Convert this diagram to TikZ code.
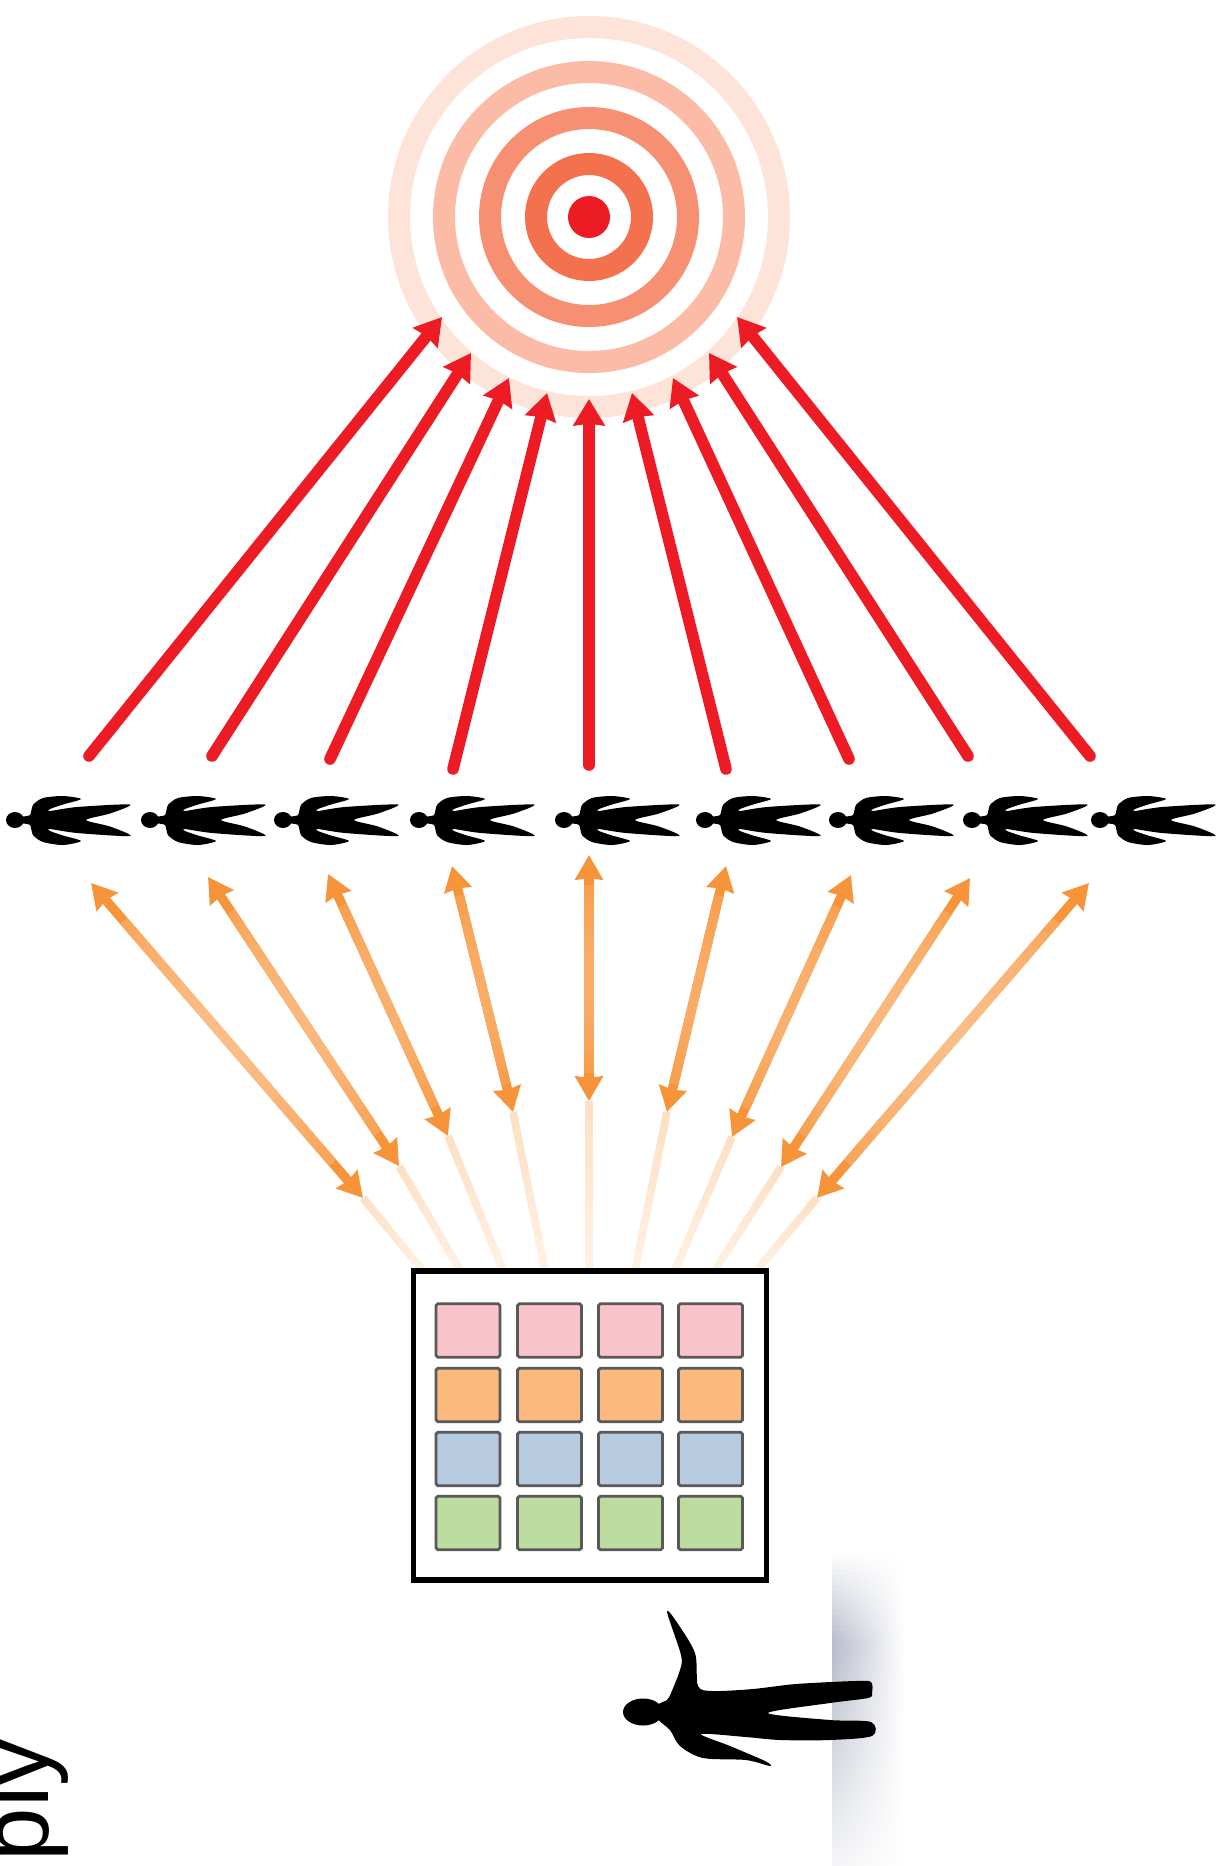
\documentclass[tikz,border=0pt]{standalone}
\usepackage{fontspec}
\setmainfont{Liberation Sans}
\usepackage{xcolor}
\usepackage{tikz}
\usetikzlibrary{
    positioning,
    arrows.meta,
    calc
}
\definecolor{ringA}{HTML}{F4714E}
\definecolor{ringB}{HTML}{F78F72}
\definecolor{ringC}{HTML}{FBBBA6}
\definecolor{ringD}{HTML}{FDE3D8}
\definecolor{hitred}{HTML}{ED1C24}
\definecolor{linkorange}{HTML}{F7943A}
\definecolor{linkfaint}{HTML}{FDE0C4}
\definecolor{cellpink}{HTML}{F9C3CA}
\definecolor{cellorange}{HTML}{FCB97D}
\definecolor{cellblue}{HTML}{B6CAE0}
\definecolor{cellgreen}{HTML}{BCDCA0}
\definecolor{floorgrey}{HTML}{B6BBC9}
\tikzset{
    ring/.style={line width=6.26pt},
    redarrow/.style={hitred, line width=3.3pt, line cap=round, -{Stealth[inset=0.5pt, length=7.5pt, width=8.8pt]}},
    orangearrow/.style={linkorange, line width=2.7pt, {Stealth[inset=0.5pt, length=7pt, width=7.8pt]}-{Stealth[inset=0.5pt, length=7pt, width=7.8pt]}},
    cell/.style={draw=black!65, line width=0.8pt, rounded corners=0.5pt, minimum width=18.2pt, minimum height=15.2pt, inner sep=0pt},
    crowdperson/.pic={
        \fill[black] (0,0) ellipse (9 and 8);
        \fill[black] plot[smooth cycle, tension=0.45] coordinates {(7,-3) (15,-5) (18,-15) (28,-22) (48,-24) (66,-21) (48,-15.5) (35,-11) (35,-9) (62,-13) (115,-15.5) (95,-6.5) (71,0) (95,6.5) (115,16) (62,13) (35,9) (35,11) (48,15.5) (66,21) (48,25) (28,22) (18,15) (15,5) (7,3)};
    },
    bigperson/.pic={
        \fill[black] (0,0) ellipse (20 and 13.5);
        \fill[black] plot[smooth cycle, tension=0.5] coordinates {(15,-7) (24,-12) (28,-19) (37,-42) (38,-57) (24,-100) (33,-91) (52,-59) (55,-26) (70,-21) (110,-23) (153,-28) (212,-31) (228,-30) (229,-19) (225,-14) (187,-9) (125,1) (187,8) (228,10) (229,24) (187,28) (137,28) (103,25) (58,22) (87,34) (122,49) (127,54) (103,48) (60,46) (37,34) (27,18) (15,7)};
    }
}
\begin{document}
\begin{tikzpicture}[x=0.01cm, y=-0.01cm]
    \useasboundingbox (0,0) rectangle (1219,1866);
    % floor
    \foreach \s in {0,...,62} {
        \pgfmathsetmacro{\tt}{(\s+.5)/63}
        \pgfmathtruncatemacro{\pc}{100*min(\tt/.3,(1.12-\tt)/.82)}
        \shade[left color=floorgrey!\pc!white, right color=white] (832,1550+\s*5) rectangle (905,1555.5+\s*5);
    }
    % target
    \coordinate (target) at (589,217);
    \foreach \r/\c in {190/ringD, 145/ringC, 99/ringB, 53/ringA}
        \draw[ring, \c] (target) circle (\r);
    \fill[hitred] (target) circle (21);
    % red arrows
    \foreach \i/\tx/\ty/\hx/\hy in {1/89/756/442/317, 2/212/756/471/353, 3/330/759/509/378, 4/453/769/547/393, 5/589/765/589/399, 6/726/769/632/393, 7/849/759/673/378, 8/968/756/709/353, 9/1090/756/737/317} {
        \coordinate (crowd\i) at (\tx,\ty);
        \coordinate (hit\i) at (\hx,\hy);
        \draw[redarrow] (crowd\i) -- (hit\i);
    }
    % crowd
    \foreach \i/\x in {1/15, 2/150, 3/283, 4/419, 5/564, 6/705, 7/838, 8/972, 9/1100}
        \pic (person\i) at (\x,820) {crowdperson};
    % orange arrows
    \foreach \i/\ux/\uy/\lx/\ly/\fx/\fy/\fd in {1/91/883/363/1198/422/1270/38, 2/208/877/399/1166/460/1270/34, 3/328/874/448/1136/503/1270/26, 4/452/866/513/1112/545/1270/22, 5/589/855/589/1101/589/1270/22, 6/726/866/667/1112/635/1270/22, 7/851/875/732/1137/675/1270/26, 8/970/878/781/1167/715/1270/34, 9/1089/883/817/1198/757/1270/38} {
        \coordinate (up\i) at (\ux,\uy);
        \coordinate (low\i) at (\lx,\ly);
        \coordinate (foot\i) at (\fx,\fy);
        \foreach \s in {0,...,9} {
            \pgfmathsetmacro{\sa}{\s/10}
            \pgfmathsetmacro{\sb}{(\s+1.2)/10}
            \pgfmathtruncatemacro{\pc}{100-6*\s}
            \draw[linkfaint!\pc!white, line width=2.2pt] ($(low\i)!\sa!(foot\i)$) -- ($(low\i)!\sb!(foot\i)$);
        }
        \draw[orangearrow] (up\i) -- (low\i);
        \foreach \s in {3,...,21} {
            \pgfmathsetmacro{\sa}{\s/25}
            \pgfmathsetmacro{\sb}{(\s+1.2)/25}
            \pgfmathtruncatemacro{\pc}{100-\fd*sin(180*(\s+.5)/25)}
            \draw[linkorange!\pc!white, line width=2.7pt] ($(up\i)!\sa!(low\i)$) -- ($(up\i)!\sb!(low\i)$);
        }
    }
    % board
    \node[draw=black, line width=1.5pt, fill=white, minimum width=100.4pt, minimum height=87.9pt, inner sep=0pt] (board) at (590,1425.5) {};
    \foreach \row/\y/\c in {1/1330.5/cellpink, 2/1395/cellorange, 3/1459/cellblue, 4/1523/cellgreen}
        \foreach \col/\x in {1/468, 2/549.5, 3/630.5, 4/710.5}
            \node[cell, fill=\c] (cell\row\col) at (\x,\y) {};
    % person in front
    \pic (viewer) at (643,1712) {bigperson};
    % cut off word
    \node[rotate=90, anchor=base west, inner sep=0pt, font=\fontsize{27.3pt}{27.3pt}\selectfont] (word) at (48,1862) {ply};
\end{tikzpicture}
\end{document}
